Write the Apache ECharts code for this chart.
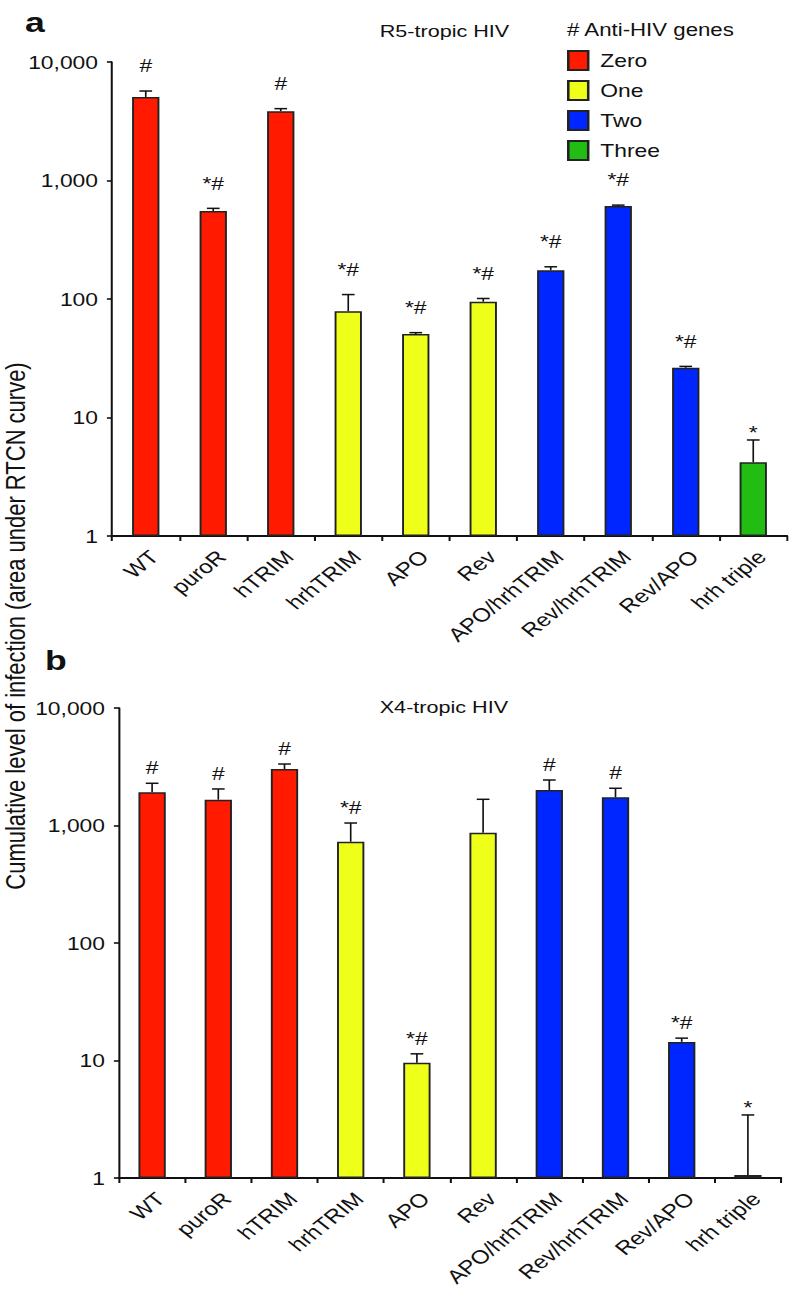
<!DOCTYPE html>
<html>
<head>
<meta charset="utf-8">
<script src="https://cdn.jsdelivr.net/npm/echarts@6/dist/echarts.min.js"></script>
<style>
html,body{margin:0;padding:0;background:#fff;overflow:hidden;}
#wrap{width:789px;height:1308px;overflow:hidden;}
#chart{height:1308px;transform-origin:0 0;}
</style>
</head>
<body>
<div id="wrap"><div id="chart"></div></div>
<script>
// ---------- data ----------
const categories = ['WT','puroR','hTRIM','hrhTRIM','APO','Rev','APO/hrhTRIM','Rev/hrhTRIM','Rev/APO','hrh triple'];
const geneGroup = [0,0,0,1,1,1,2,2,2,3];
const groupNames = ['Zero','One','Two','Three'];
const r5Values = [5070, 553, 3840, 79, 50.6, 95, 175, 609, 26.3, 4.19];
const r5ErrTop = [5690, 582, 4040, 109, 52, 101, 187, 620, 27, 6.46];
const r5Marks = ['#','*#','#','*#','*#','*#','*#','*#','*#','*'];
const x4Values = [1918, 1659, 3026, 728, 9.58, 868, 2005, 1738, 14.4, 1.06];
const x4ErrTop = [2287, 2046, 3336, 1050, 11.4, 1671, 2439, 2074, 15.5, 3.44];
const x4Marks = ['#','#','#','*#','*#','','#','#','*#','*'];
const yTicks = [1, 10, 100, 1000, 10000];
const panelTitles = ['R5-tropic HIV', 'X4-tropic HIV'];
const panelLetters = ['a', 'b'];
const legendTitle = '# Anti-HIV genes';
const yAxisTitle = 'Cumulative level of infection (area under RTCN curve)';

// ---------- style ----------
const S = 1.27; // horizontal stretch of the reference figure
const W = 789 / S;
const colors = ['#ff1a00', '#eeff1a', '#0026ff', '#22bd12'];
const FONT = 'Liberation Sans';
const chartEl = document.getElementById('chart');
chartEl.style.width = W + 'px';
chartEl.style.transform = 'scaleX(' + S + ')';

const grids = [
  {left: 112 / S, top: 62, width: (787 - 112) / S, height: 474},
  {left: 119 / S, top: 708, width: (781 - 119) / S, height: 470}
];
const markGap = [16.4, 6.4];

function fmt(v) {
  const r = Math.round(v);
  if (yTicks.indexOf(r) < 0) return '';
  return r.toLocaleString('en-US');
}

const xAxes = [], yAxes = [], series = [];
[[r5Values, r5ErrTop, r5Marks], [x4Values, x4ErrTop, x4Marks]].forEach(function (p, k) {
  const vals = p[0], errs = p[1], marks = p[2];
  xAxes.push({
    type: 'category', gridIndex: k, data: categories,
    axisLine: {show: true, lineStyle: {color: '#111', width: 2}},
    axisTick: {show: true, length: 5, lineStyle: {color: '#111', width: 1.6}, interval: 0},
    axisLabel: {interval: 0, rotate: 45, fontFamily: FONT, fontSize: 19, color: '#111', margin: 11,
      verticalAlign: 'top'}
  });
  yAxes.push({
    type: 'log', logBase: 10, gridIndex: k, min: 1, max: 10000,
    axisLine: {show: true, lineStyle: {color: '#111', width: 1.6}},
    axisTick: {show: true, length: 4, lineStyle: {color: '#111', width: 1.6}},
    splitLine: {show: false}, minorTick: {show: false},
    axisLabel: {fontFamily: FONT, fontSize: 18, color: '#111', margin: 11, formatter: fmt}
  });
  groupNames.forEach(function (g, gi) {
    series.push({
      name: g, type: 'bar', xAxisIndex: k, yAxisIndex: k,
      barWidth: 21.5, barGap: '-100%',
      itemStyle: {color: colors[gi], borderColor: '#222', borderWidth: 1.5},
      data: vals.map(function (v, i) { return geneGroup[i] === gi ? v : '-'; }),
      silent: true, z: 2
    });
  });
  series.push({
    type: 'custom', xAxisIndex: k, yAxisIndex: k, z: 5, silent: true,
    encode: {x: 0, y: [1, 2]},
    data: vals.map(function (v, i) { return [i, v, errs[i], marks[i]]; }),
    renderItem: function (params, api) {
      const i = api.value(0);
      const p0 = api.coord([i, api.value(1)]);
      const p1 = api.coord([i, api.value(2)]);
      const m = marks[i];
      const children = [
        {type: 'line', shape: {x1: p0[0], y1: p0[1], x2: p1[0], y2: p1[1]}, style: {stroke: '#111', lineWidth: 1.3}},
        {type: 'line', shape: {x1: p1[0] - 5, y1: p1[1], x2: p1[0] + 5, y2: p1[1]}, style: {stroke: '#111', lineWidth: 1.5}}
      ];
      if (m) {
        const gap = m === '*' ? -1.3 : markGap[k];
        children.push({type: 'text', x: p1[0], y: p1[1] - gap,
          style: {text: m, fontFamily: FONT, fontSize: 18, fill: '#111', textAlign: 'center', textVerticalAlign: 'bottom'}});
      }
      return {type: 'group', children: children};
    }
  });
});

const option = {
  animation: false,
  backgroundColor: '#fff',
  grid: grids.map(function (g) { return Object.assign({containLabel: false}, g); }),
  xAxis: xAxes,
  yAxis: yAxes,
  legend: {
    data: groupNames, orient: 'vertical', left: 567 / S, top: 50, padding: 0,
    itemWidth: 15.7, itemHeight: 19, itemGap: 9, icon: 'rect', selectedMode: false,
    textStyle: {fontFamily: FONT, fontSize: 18, color: '#111', padding: [0, 0, 0, 4.5]}
  },
  graphic: [
    {type: 'text', x: 19.7, y: 22, style: {text: panelLetters[0], font: 'bold 28px ' + FONT, fill: '#111', textVerticalAlign: 'middle'}},
    {type: 'text', x: 35.4, y: 660, style: {text: panelLetters[1], font: 'bold 28px ' + FONT, fill: '#111', textVerticalAlign: 'middle'}},
    {type: 'text', x: 299, y: 31, style: {text: panelTitles[0], font: '17px ' + FONT, fill: '#111', textVerticalAlign: 'middle'}},
    {type: 'text', x: 299, y: 706.6, style: {text: panelTitles[1], font: '17px ' + FONT, fill: '#111', textVerticalAlign: 'middle'}},
    {type: 'text', x: 446.5, y: 30, style: {text: legendTitle, font: '17.5px ' + FONT, fill: '#111', textVerticalAlign: 'middle'}},
    {type: 'text', x: 11.5, y: 626, rotation: Math.PI / 2, style: {text: yAxisTitle, font: '22px ' + FONT, fill: '#111', textAlign: 'center', textVerticalAlign: 'middle'}}
  ],
  series: series
};

const chart = echarts.init(chartEl, null, {renderer: 'svg', width: W, height: 1308});
chart.setOption(option);
</script>
</body>
</html>
